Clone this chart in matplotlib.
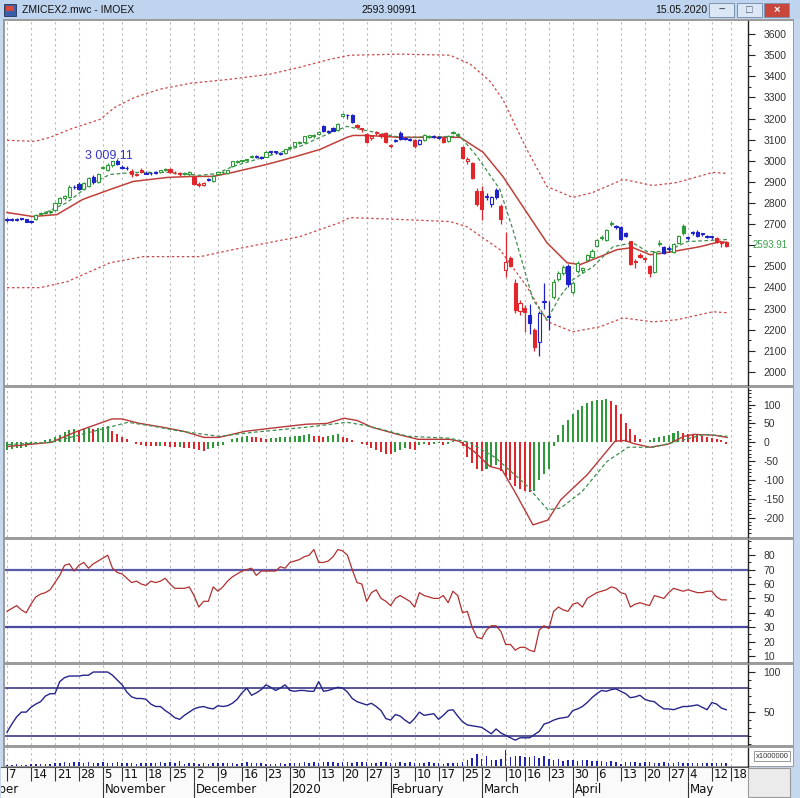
import matplotlib
matplotlib.use('Agg')
import matplotlib.pyplot as plt
import numpy as np
import pandas as pd
from matplotlib.patches import Rectangle

plt.rcParams['font.family'] = ['Liberation Sans', 'DejaVu Sans']
plt.rcParams['axes.unicode_minus'] = False

# ---------------- data ----------------
holidays = ['2019-11-04', '2019-12-31', '2020-01-01', '2020-01-02', '2020-01-07',
            '2020-02-24', '2020-03-09', '2020-05-01', '2020-05-11']

opens = [2720, 2718, 2720, 2726, 2722, 2710, 2722, 2748, 2752, 2756,
         2768, 2800, 2822, 2830, 2875, 2890, 2866, 2880, 2925, 2900,
         2966, 2955, 2978, 3000, 2970, 2966, 2952, 2932, 2958, 2942,
         2940, 2944, 2946, 2958, 2962, 2944, 2940, 2936, 2935, 2925,
         2888, 2886, 2910, 2905, 2938, 2946, 2940, 2975, 2996, 2998,
         3004, 3018, 3020, 3015, 3020, 3042, 3040, 3035, 3035, 3060,
         3068, 3086, 3087, 3113, 3118, 3125, 3163, 3142, 3157, 3145,
         3212, 3216, 3218, 3168, 3150, 3125, 3110, 3130, 3128, 3130,
         3070, 3095, 3132, 3105, 3100, 3100, 3080, 3100, 3114, 3118,
         3110, 3110, 3095, 3132, 3124, 3065, 3000, 2990, 2855, 2855,
         2830, 2795, 2860, 2785, 2485, 2540, 2420, 2290, 2305, 2270,
         2200, 2140, 2330, 2262, 2355, 2440, 2470, 2500, 2380, 2480,
         2482, 2530, 2545, 2595, 2632, 2625, 2700, 2690, 2685, 2660,
         2618, 2520, 2555, 2537, 2500, 2475, 2608, 2590, 2584, 2570,
         2610, 2690, 2636, 2660, 2665, 2655, 2640, 2640, 2636, 2612,
         2612]
highs = [2728, 2727, 2730, 2730, 2725, 2718, 2750, 2758, 2762, 2766,
         2805, 2830, 2840, 2885, 2885, 2900, 2898, 2925, 2932, 2940,
         2975, 2988, 3000, 3009.11, 2980, 2974, 2960, 2942, 2965, 2950,
         2948, 2952, 2958, 2968, 2968, 2950, 2945, 2946, 2952, 2930,
         2898, 2900, 2918, 2935, 2952, 2952, 2958, 3000, 3004, 3006,
         3010, 3026, 3026, 3022, 3044, 3046, 3046, 3040, 3058, 3068,
         3090, 3094, 3118, 3124, 3125, 3142, 3170, 3146, 3162, 3180,
         3228, 3222, 3222, 3172, 3155, 3130, 3120, 3140, 3133, 3135,
         3080, 3102, 3140, 3112, 3106, 3104, 3104, 3128, 3120, 3122,
         3116, 3115, 3120, 3142, 3130, 3070, 3016, 2995, 2870, 2880,
         2845, 2835, 2872, 2795, 2665, 2548, 2440, 2340, 2315, 2320,
         2210, 2290, 2420, 2335, 2440, 2480, 2505, 2510, 2430, 2525,
         2498, 2560, 2580, 2630, 2648, 2675, 2715, 2695, 2690, 2665,
         2622, 2535, 2562, 2545, 2505, 2575, 2625, 2595, 2598, 2610,
         2650, 2700, 2645, 2668, 2672, 2660, 2648, 2646, 2640, 2622,
         2622]
lows = [2712, 2714, 2716, 2718, 2708, 2704, 2718, 2742, 2746, 2750,
        2764, 2796, 2815, 2826, 2866, 2860, 2862, 2876, 2890, 2895,
        2960, 2950, 2972, 2980, 2962, 2955, 2925, 2926, 2940, 2935,
        2934, 2938, 2942, 2952, 2940, 2935, 2930, 2932, 2930, 2885,
        2876, 2880, 2902, 2900, 2934, 2938, 2936, 2970, 2990, 2994,
        2998, 3012, 3014, 3008, 3016, 3034, 3034, 3026, 3030, 3055,
        3064, 3080, 3083, 3108, 3110, 3120, 3138, 3130, 3140, 3142,
        3208, 3200, 3178, 3155, 3135, 3085, 3100, 3124, 3110, 3085,
        3062, 3088, 3100, 3098, 3092, 3060, 3076, 3096, 3108, 3108,
        3104, 3086, 3090, 3126, 3116, 3010, 2985, 2915, 2785, 2720,
        2815, 2780, 2820, 2700, 2450, 2495, 2280, 2270, 2190, 2180,
        2100, 2075, 2300, 2200, 2345, 2430, 2460, 2400, 2370, 2470,
        2470, 2520, 2540, 2590, 2626, 2620, 2690, 2675, 2625, 2640,
        2505, 2490, 2540, 2520, 2450, 2470, 2598, 2560, 2570, 2565,
        2605, 2650, 2625, 2650, 2640, 2645, 2632, 2630, 2612, 2590,
        2590]
closes = [2718, 2722, 2726, 2724, 2712, 2714, 2745, 2752, 2757, 2762,
          2800, 2825, 2832, 2878, 2874, 2865, 2893, 2920, 2898, 2935,
          2968, 2982, 2997, 2985, 2968, 2964, 2935, 2936, 2945, 2938,
          2944, 2946, 2955, 2962, 2945, 2940, 2935, 2942, 2946, 2890,
          2886, 2893, 2912, 2930, 2948, 2945, 2955, 2997, 2998, 3000,
          3005, 3020, 3021, 3014, 3040, 3040, 3041, 3033, 3055, 3063,
          3087, 3088, 3115, 3120, 3118, 3138, 3142, 3137, 3143, 3175,
          3220, 3215, 3183, 3160, 3150, 3090, 3115, 3135, 3115, 3090,
          3073, 3097, 3105, 3104, 3099, 3068, 3100, 3124, 3116, 3114,
          3110, 3090, 3115, 3135, 3125, 3015, 3010, 2920, 2793, 2770,
          2830, 2830, 2828, 2722, 2520, 2500, 2295, 2325, 2283, 2232,
          2120, 2280, 2334, 2260, 2425, 2470, 2495, 2415, 2420, 2515,
          2490, 2555, 2575, 2625, 2640, 2670, 2705, 2685, 2630, 2645,
          2510, 2522, 2545, 2535, 2470, 2570, 2610, 2565, 2586, 2605,
          2645, 2660, 2636, 2660, 2645, 2655, 2640, 2640, 2617, 2612,
          2594]
candle_colors = ('bbbbbbggggggggbbggbggggbbbrrrbbbggrrrggrrrb'
                 'gggggggggbbgbbbggggggggbbbggbbrrrrrrrrbbbbrbggbbr'
                 'gggrrrrrbbbrrrrrrbrbbbgggbgggggggggbbbrrrrrggbbgggbbbbbbrrr')

# moving averages and envelope, read as (bar, value)
upper_x = [0, 5.8, 9, 13.1, 19.4, 22.5, 26.7, 31.9, 38.2, 46.5, 54.8, 61.1, 67.4, 71.5,
           82, 92.4, 96.6, 100.7, 103.4, 108.4, 112.6, 118, 122.2, 128.5, 134.7, 139.7, 147.2, 150.2]
upper_y = [3097, 3092, 3111, 3149, 3196, 3253, 3301, 3339, 3367, 3386, 3410, 3443, 3481, 3500,
           3505, 3500, 3458, 3377, 3291, 3054, 2878, 2826, 2850, 2912, 2883, 2897, 2945, 2940]
lower_x = [0, 6.9, 12.5, 21.5, 28.4, 40.3, 47.1, 61.1, 69.4, 71.5, 82, 92.4, 95.9, 102.8,
           108.4, 112.8, 118, 123.7, 128.5, 134.7, 139.7, 147.2, 150.2]
lower_y = [2399, 2399, 2427, 2517, 2546, 2546, 2579, 2641, 2707, 2731, 2722, 2712, 2688, 2579,
           2404, 2237, 2190, 2214, 2256, 2237, 2247, 2285, 2280]
slow_x = [0, 5.4, 10.4, 15.8, 21.5, 26.3, 33.4, 38.8, 43, 47.1, 54.2, 59.6, 65.3, 70.9, 72.2,
          75.1, 82, 94.5, 99.3, 103.4, 108.4, 112.6, 116.8, 119.5, 123.7, 127.2, 130.5, 134.1,
          137.6, 144.5, 148.7, 150.4]
slow_y = [2755, 2736, 2745, 2817, 2864, 2902, 2921, 2926, 2926, 2945, 2983, 3016, 3054, 3111, 3120,
          3120, 3111, 3111, 3040, 2926, 2755, 2612, 2517, 2508, 2546, 2579, 2589, 2555,
          2565, 2593, 2617, 2612]
fast_x = [5.8, 12.5, 17.9, 21.5, 26.3, 33.4, 40.3, 43.8, 47.1, 54.2, 61.1, 66.7, 70.9, 73.6,
          82, 94.5, 98, 102.8, 105.5, 109.7, 112.6, 115.3, 118, 122.2, 126.4, 130.5, 133.5,
          137.6, 141.8, 150.2]
fast_y = [2731, 2802, 2897, 2935, 2945, 2945, 2931, 2940, 2973, 3021, 3068, 3125, 3163, 3149,
          3111, 3116, 3021, 2864, 2674, 2342, 2247, 2356, 2437, 2498, 2593, 2612, 2570,
          2570, 2617, 2627]

# MACD
macd_x = [0.2, 9.2, 14.6, 21.9, 24, 27.3, 32.5, 36.9, 41.1, 44.2, 49.6, 54.8, 62.4, 66.7, 70.3,
          73, 76.1, 81.5, 85.7, 92.2, 94.3, 97.4, 100.7, 103.2, 105.9, 109.7, 112.8, 115.5,
          121, 126.8, 128.9, 130.6, 134.1, 137.9, 141.2, 143.3, 147.4, 150.2]
macd_y = [-11, 0, 29, 62, 62, 51, 40, 29, 13, 13, 29, 37, 48, 50, 64,
          58, 40, 21, 8, 8, 3, -24, -64, -72, -131, -219, -206, -152,
          -86, 3, 5, -3, -13, -5, 16, 21, 19, 13]
signal_x = [0.2, 9.2, 15.6, 25.2, 30.4, 35.9, 44.2, 51.7, 62.4, 70.9, 75.1, 83.6, 92.2, 96.4,
            101.8, 108.2, 112.8, 115.5, 119.9, 125.1, 129.5, 134.7, 140.1, 145.4, 150.2]
signal_y = [-6, 0, 21, 53, 43, 30, 16, 27, 40, 53, 44, 16, 11, 0,
            -40, -112, -179, -174, -131, -51, -13, -13, 3, 21, 16]
macd_hist = [-20, -18, -16, -15, -12, -8, -4, 2, 5, 8,
             14, 20, 27, 32, 35, 33, 36, 37, 35, 38,
             40, 42, 30, 22, 15, 8, 2, -5, -8, -9,
             -10, -11, -10, -11, -12, -13, -13, -14, -15, -18,
             -20, -22, -18, -14, -10, -6, 2, 8, 12, 15,
             16, 15, 13, 12, 10, 11, 12, 13, 14, 15,
             16, 18, 20, 21, 18, 17, 15, 18, 20, 21,
             15, 12, 6, 2, -4, -8, -15, -20, -25, -30,
             -32, -25, -20, -14, -18, -20, -8, -5, -6, -4,
             -3, -6, -4, 4, 2, -10, -40, -55, -70, -75,
             -70, -65, -60, -75, -90, -100, -115, -125, -130, -132,
             -130, -100, -85, -70, -10, 20, 45, 60, 75, 85,
             95, 105, 110, 113, 113, 114, 110, 100, 75, 50,
             35, 20, 10, 2, 6, 12, 15, 16, 20, 25,
             30, 25, 22, 21, 20, 18, 15, 12, 8, 5,
             -5]

rsi = [41, 43, 45, 42, 40, 46, 51, 53, 54, 56,
       61, 66, 73, 74, 69, 73, 75, 71, 74, 76,
       78, 80, 71, 68, 67, 64, 61, 62, 60, 59,
       62, 61, 62, 64, 60, 57, 57, 57, 58, 52,
       44, 48, 48, 58, 55, 58, 62, 65, 67, 69,
       70, 71, 66, 69, 69, 69, 69, 72, 71, 75,
       76, 77, 79, 80, 84, 75, 75, 76, 79, 84,
       83, 80, 70, 61, 60, 48, 54, 56, 50, 48,
       45, 50, 52, 50, 48, 44, 54, 52, 51, 50,
       50, 52, 47, 55, 52, 40, 41, 30, 23, 22,
       28, 31, 31, 27, 18, 18, 14, 16, 16, 14,
       13, 28, 31, 29, 41, 44, 42, 41, 46, 47,
       44, 50, 52, 54, 55, 56, 58, 57, 54, 53,
       44, 46, 47, 46, 45, 52, 51, 50, 54, 57,
       56, 55, 56, 55, 54, 54, 55, 55, 51, 49,
       49]

stoch = [25, 35, 44, 50, 50, 56, 60, 63, 70, 73,
         73, 88, 93, 95, 95, 95, 96, 96, 100, 100,
         100, 100, 96, 90, 84, 75, 69, 67, 67, 66,
         60, 57, 57, 52, 48, 43, 41, 46, 50, 54,
         56, 57, 55, 54, 58, 57, 58, 61, 66, 74,
         80, 71, 74, 78, 84, 81, 77, 80, 84, 77,
         76, 77, 77, 76, 76, 88, 76, 77, 79, 81,
         80, 75, 67, 63, 61, 59, 61, 57, 52, 42,
         40, 47, 45, 40, 36, 42, 50, 46, 47, 48,
         41, 46, 52, 53, 45, 38, 34, 33, 32, 31,
         27, 23, 29, 24, 21, 18, 15, 18, 18, 18,
         22, 26, 35, 37, 40, 42, 43, 44, 52, 54,
         57, 62, 68, 73, 77, 76, 78, 79, 76, 73,
         68, 69, 71, 66, 64, 63, 58, 54, 54, 53,
         55, 57, 57, 58, 59, 56, 53, 62, 60, 55,
         53]

volume = [1.5, 1.5, 2, 1.5, 1.5, 2, 2, 2.5, 2, 2.5,
          3, 3.5, 4, 3.5, 4, 4, 3.5, 4, 3.5, 3,
          4, 3.5, 3.5, 4, 3.5, 3, 3.5, 2.5, 3, 3.5,
          3, 3.5, 4, 3, 4.5, 3.5, 5.5, 2.5, 3, 3.5,
          2.5, 3, 2.5, 3, 3, 3.5, 3, 3, 2.5, 3,
          4, 3.5, 3, 3.5, 2.5, 2, 2.5, 3, 2.5, 3,
          3.5, 3.5, 4, 3.5, 4, 3.5, 4, 4.5, 4, 3.5,
          4, 4.5, 3.5, 4, 4, 4.5, 3.5, 3, 4, 4.5,
          3.5, 3, 4, 3.5, 4, 3.5, 3, 3.5, 4, 3,
          3, 2.5, 3, 3.5, 3, 4.5, 6, 8, 12, 7,
          10, 6, 6, 7, 16, 9, 10, 10, 9, 9,
          10, 8, 10, 7, 6, 7, 5.5, 6, 6.5, 5,
          6, 6, 5, 5.5, 5, 4, 5.5, 4, 2, 4,
          4.5, 4, 3.5, 4.5, 4, 3.5, 3, 4, 3.5, 3.5,
          4, 3, 3, 3.5, 3.5, 3, 3, 3.5, 3.5, 3,
          3]

tick_dates = ['2019-10-07', '2019-10-14', '2019-10-21', '2019-10-28', '2019-11-05',
              '2019-11-11', '2019-11-18', '2019-11-25', '2019-12-02', '2019-12-09',
              '2019-12-16', '2019-12-23', '2019-12-30', '2020-01-13', '2020-01-20',
              '2020-01-27', '2020-02-03', '2020-02-10', '2020-02-17', '2020-02-25',
              '2020-03-02', '2020-03-10', '2020-03-16', '2020-03-23', '2020-03-30',
              '2020-04-06', '2020-04-13', '2020-04-20', '2020-04-27', '2020-05-04',
              '2020-05-12', '2020-05-18']
month_dates = ['2019-11-05', '2019-12-02', '2019-12-30', '2020-02-03',
               '2020-03-02', '2020-03-30', '2020-05-04']
month_names = ['November', 'December', '2020', 'February', 'March', 'April', 'May']

# ---------------- layout helpers ----------------
W, H = 800, 798
PX = 4.795   # pixels per bar
X0 = 7       # pixel of first bar


def fx(px):
    return px / W


def fy(py):
    return 1 - py / H


def bar_at(px):
    return (px - X0) / PX


def fig_rect(x0, y0, x1, y1, z, **kw):
    # rectangle in figure pixels (top-left origin)
    r = Rectangle((fx(x0), fy(y1)), fx(x1) - fx(x0), (y1 - y0) / H,
                  transform=fig.transFigure, zorder=z, **kw)
    fig.patches.append(r)


days = pd.bdate_range('2019-10-07', '2020-05-18')
days = days[~days.isin(pd.to_datetime(holidays))]
pos = {d.strftime('%Y-%m-%d'): i for i, d in enumerate(days)}
tick_pos = [pos[d] for d in tick_dates]

GRID = dict(color='#b8b8b8', linestyle=(0, (2, 3)), linewidth=0.8)
LABEL_COLOR = '#333333'

fig = plt.figure(figsize=(8, 7.98), dpi=100)
fig.patch.set_facecolor('#c5d8ee')

# window chrome
fig_rect(3, 19, 794, 767, -10, facecolor='#9c9c9c', edgecolor='none')
fig_rect(0, 0, 800, 19, -10, facecolor='#bfd4ee', edgecolor='none')
fig_rect(4, 4, 16, 16, -9, facecolor='#3a5fa8', edgecolor='#223355', lw=0.6)
fig_rect(6, 6, 14, 11, -8, facecolor='#d94a3a', edgecolor='none')
fig.text(fx(22), fy(10), 'ZMICEX2.mwc - IMOEX', fontsize=7.5, va='center', color='#111111')
fig.text(fx(389), fy(10), '2593.90991', fontsize=7.5, va='center', ha='center', color='#111111')
fig.text(fx(681), fy(10), '15.05.2020', fontsize=7.5, va='center', ha='center', color='#111111')
for bx, fc, sym, sc in [(709, '#dce7f5', '–', '#44556a'), (737, '#dce7f5', '□', '#44556a'),
                        (764, '#c9463d', '×', 'white')]:
    fig_rect(bx, 3, bx + 25, 17, -9, facecolor=fc, edgecolor='#7d93b0', lw=0.7)
    fig.text(fx(bx + 12.5), fy(10), sym, fontsize=8, ha='center', va='center', color=sc,
             fontweight='bold')

panels = [(21, 385), (388, 537), (540, 662), (665, 745), (748, 766)]
for top, bottom in panels:
    fig_rect(748, top, 793, bottom, -9, facecolor='white', edgecolor='none')


def make_panel(top, bottom):
    ax = fig.add_axes([fx(5), fy(bottom), fx(748) - fx(5), (bottom - top) / H])
    ax.set_xlim(bar_at(5), bar_at(748))
    ax.set_xticks(tick_pos)
    ax.tick_params(axis='x', length=0, labelbottom=False)
    ax.grid(axis='x', **GRID)
    ax.set_axisbelow(True)
    ax.yaxis.tick_right()
    ax.tick_params(axis='y', which='major', direction='out', length=5, width=0.8, pad=6,
                   labelsize=7.5, labelcolor=LABEL_COLOR, color='#222222')
    ax.tick_params(axis='y', which='minor', direction='out', length=2.5, width=0.7, color='#222222')
    for side in ['left', 'top', 'bottom']:
        ax.spines[side].set_visible(False)
    ax.spines['right'].set_color('#222222')
    ax.spines['right'].set_linewidth(1.0)
    return ax


# ---------------- price panel ----------------
ax1 = make_panel(*panels[0])
ax1.set_ylim(1938, 3662)
ax1.set_yticks(np.arange(2000, 3601, 100))
ax1.set_yticks(np.arange(2000, 3601, 50), minor=True)
ax1.set_yticklabels([str(v) if v != 2600 else '' for v in range(2000, 3601, 100)])

ax1.plot(upper_x, upper_y, color='#c84a4a', lw=0.9, linestyle=(0, (2, 2)))
ax1.plot(lower_x, lower_y, color='#c84a4a', lw=0.9, linestyle=(0, (2, 2)))
ax1.plot(slow_x, slow_y, color='#c0403a', lw=1.1)
ax1.plot(fast_x, fast_y, color='#3f8f4f', lw=0.9, linestyle=(0, (3, 2)))

cmap = {'g': '#2f9a3a', 'r': '#e0262a', 'b': '#1f22c8'}
idx = np.arange(len(closes))
for i in idx:
    c = cmap[candle_colors[i]]
    o, h, l, cl = opens[i], highs[i], lows[i], closes[i]
    ax1.vlines(i, l, h, color=c, lw=0.9, zorder=3)
    bottom = min(o, cl)
    height = max(abs(cl - o), 4)
    face = 'white' if cl >= o else c
    ax1.bar(i, height, bottom=bottom, width=0.66, facecolor=face, edgecolor=c,
            linewidth=0.8, zorder=4)

ax1.text(bar_at(85), 3024, '3 009.11', fontsize=9, color='#3535c8', va='center')
ax1.text(1.006, 2600, '2593.91', transform=ax1.get_yaxis_transform(), fontsize=7,
         color='#3f9f4f', va='center', ha='left')

# ---------------- MACD panel ----------------
ax2 = make_panel(*panels[1])
ax2.set_ylim(-251, 144)
ax2.set_yticks(np.arange(-200, 101, 50))
ax2.set_yticks(np.arange(-240, 141, 10), minor=True)
hist_colors = ['#2f9a3a' if i == 0 or macd_hist[i] >= macd_hist[i - 1] else '#e0262a'
               for i in range(len(macd_hist))]
ax2.bar(idx, macd_hist, width=0.42, color=hist_colors, zorder=2)
ax2.plot(macd_x, macd_y, color='#b8383a', lw=1.0, zorder=3)
ax2.plot(signal_x, signal_y, color='#3f8f4f', lw=0.9, linestyle=(0, (3, 2)), zorder=3)

# ---------------- RSI panel ----------------
ax3 = make_panel(*panels[2])
ax3.set_ylim(5.8, 90.6)
ax3.set_yticks(np.arange(10, 81, 10))
ax3.set_yticks(np.arange(10, 91, 5), minor=True)
ax3.axhline(70, color='#5a5aa8', lw=1.6, zorder=2)
ax3.axhline(30, color='#4a4aa0', lw=1.6, zorder=2)
ax3.plot(idx, rsi, color='#b03030', lw=0.9, zorder=3)

# ---------------- stochastic panel ----------------
ax4 = make_panel(*panels[3])
ax4.set_ylim(9, 108.75)
ax4.set_yticks([50, 100])
ax4.set_yticks(np.arange(10, 101, 10), minor=True)
ax4.axhline(80, color='#3a3a88', lw=1.2, zorder=2)
ax4.axhline(20, color='#3a3a88', lw=1.2, zorder=2)
ax4.plot(idx, stoch, color='#26268a', lw=1.0, zorder=3)

# ---------------- volume panel ----------------
ax5 = make_panel(*panels[4])
ax5.set_ylim(0, 18)
ax5.set_yticks([])
ax5.bar(idx, volume, width=0.32, color='#1f22b0', zorder=2)
ax5.text(1.01, 0.55, 'x1000000', transform=ax5.transAxes, fontsize=5.5, va='center',
         color='#333333', bbox=dict(facecolor='white', edgecolor='#888888', lw=0.6, pad=1))

# ---------------- date axis ----------------
axd = fig.add_axes([fx(1), fy(798), fx(748) - fx(1), 31 / H])
axd.set_xlim(bar_at(1), bar_at(748))
axd.set_ylim(31, 0)
axd.set_facecolor('#fafafa')
axd.set_xticks([])
axd.set_yticks([])
for side in ['left', 'right', 'bottom']:
    axd.spines[side].set_visible(False)
axd.spines['top'].set_color('#555555')
nfont = ['Liberation Sans Narrow', 'DejaVu Sans']
for d, p in zip(tick_dates, tick_pos):
    axd.vlines(p, 0, 14, color='#333333', lw=0.8)
    axd.text(p + 0.35, 7.5, str(int(d[-2:])), fontsize=8.5, va='center', ha='left',
             family=nfont, color='#111111')
for d, name in zip(month_dates, month_names):
    p = pos[d]
    axd.vlines(p, 14, 31, color='#333333', lw=0.8)
    axd.text(p + 0.35, 22.5, name, fontsize=8.5, va='center', ha='left',
             family=nfont, color='#111111')
axd.text(bar_at(19), 22.5, 'October', fontsize=8.5, va='center', ha='right',
         family=nfont, color='#111111', clip_on=True)

fig_rect(748, 768, 790, 797, 5, facecolor='#ebebeb', edgecolor='#9a9a9a', lw=0.8)

fig.savefig('out.png', dpi=100, facecolor=fig.get_facecolor())
